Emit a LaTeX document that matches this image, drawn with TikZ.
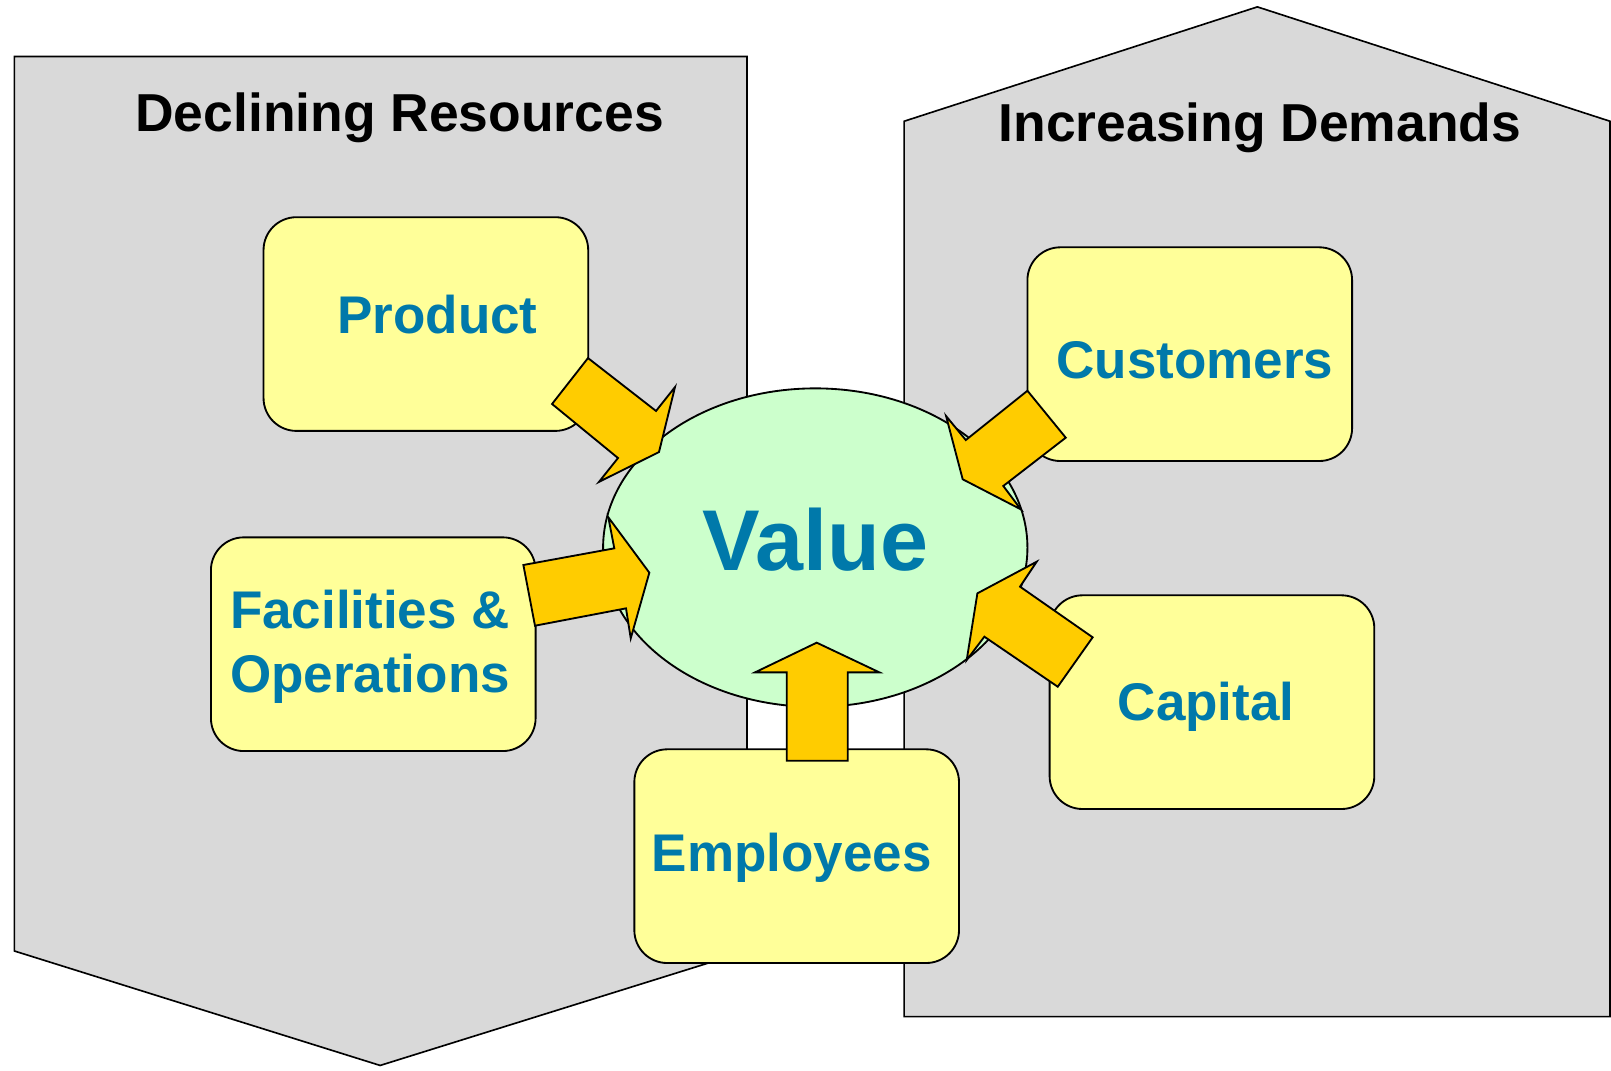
\documentclass[tikz,border=0pt]{standalone}
\usepackage{fontspec}
\setmainfont{Liberation Sans}
\usetikzlibrary{shapes.geometric}
\definecolor{panelgray}{HTML}{D9D9D9}
\definecolor{boxyellow}{HTML}{FFFF99}
\definecolor{valuegreen}{HTML}{CCFFCC}
\definecolor{arrowgold}{HTML}{FFCC00}
\definecolor{labelblue}{RGB}{0,121,170}
\begin{document}
\begin{tikzpicture}[x=1pt,y=-1pt,line width=1.8pt,
  panel/.style={draw=black,fill=panelgray,line width=1.6pt},
  itembox/.style={draw=black,fill=boxyellow,rounded corners=32pt,minimum width=316pt,minimum height=208pt,inner sep=0pt},
  valuebox/.style={ellipse,draw=black,fill=valuegreen,minimum width=413pt,minimum height=310pt,inner sep=0pt},
  blockarrow/.style={draw=black,fill=arrowgold,line join=miter},
  itemlabel/.style={text=labelblue,font=\fontsize{51.6}{62}\selectfont\bfseries,inner sep=0pt,anchor=base},
  valuelabel/.style={text=labelblue,font=\fontsize{84}{97}\selectfont\bfseries,inner sep=0pt,anchor=base},
  paneltitle/.style={text=black,font=\fontsize{52}{62}\selectfont\bfseries,inner sep=0pt,anchor=base}]
\useasboundingbox (0,0) rectangle (1568,1041.5);

% panels
\draw[panel] (14,55) -- (727,55) -- (727,925.6) -- (370,1037) -- (14,925.6) -- cycle;
\draw[panel] (880,989.5) -- (1567,989.5) -- (1567,118) -- (1223.8,6.7) -- (880,118) -- cycle;

% central ellipse
\node[valuebox] (value) at (793.5,533) {};

% boxes
\node[itembox] (product) at (414.5,315.4) {};
\node[itembox] (facilities) at (363.3,627) {};
\node[itembox] (employees) at (775.4,833.3) {};
\node[itembox] (customers) at (1158,344.7) {};
\node[itembox] (capital) at (1179.6,683.4) {};

% block arrows
\draw[blockarrow] (572.3,348.5) -- (638.5,400) -- (657,376.7) -- (641.4,440) -- (583,469) -- (601.5,445.8) -- (537.3,393.2) -- cycle;
\draw[blockarrow] (509.4,549.9) -- (597.9,533.7) -- (592.1,503.5) -- (632,557.4) -- (613.9,621.3) -- (609.3,592.1) -- (520.7,609) -- cycle;
\draw[blockarrow] (1000,380.3) -- (1037.3,426) -- (976.5,473) -- (993.5,495.7) -- (937,466.5) -- (920.8,404.9) -- (940,428.3) -- cycle;
\draw[blockarrow] (1063.5,620.3) -- (1029.5,668.4) -- (958.1,619.7) -- (940.9,642.4) -- (951.3,577.5) -- (1009,546.7) -- (992.8,571) -- cycle;
\draw[blockarrow] (765.7,740.4) -- (765.7,654.4) -- (734.9,654.4) -- (794.9,625.5) -- (855.9,654.4) -- (825.1,654.4) -- (825.1,740.4) -- cycle;

% texts
\node[paneltitle] (tdecl) at (389,128.4) {Declining Resources};
\node[paneltitle] (tincr) at (1226.3,137.4) {Increasing Demands};
\node[itemlabel] (lprod) at (425.7,325) {Product};
\node[itemlabel,anchor=base west] (lfac1) at (223,611.6) {Facilities \&};
\node[itemlabel,anchor=base west] (lfac2) at (223,674.2) {Operations};
\node[itemlabel] (lemp) at (770.5,847.8) {Employees};
\node[itemlabel] (lcust) at (1163,368.7) {Customers};
\node[itemlabel] (lcap) at (1173.9,700.8) {Capital};
\node[valuelabel] (lval) at (793.6,554.8) {Value};
\end{tikzpicture}
\end{document}
